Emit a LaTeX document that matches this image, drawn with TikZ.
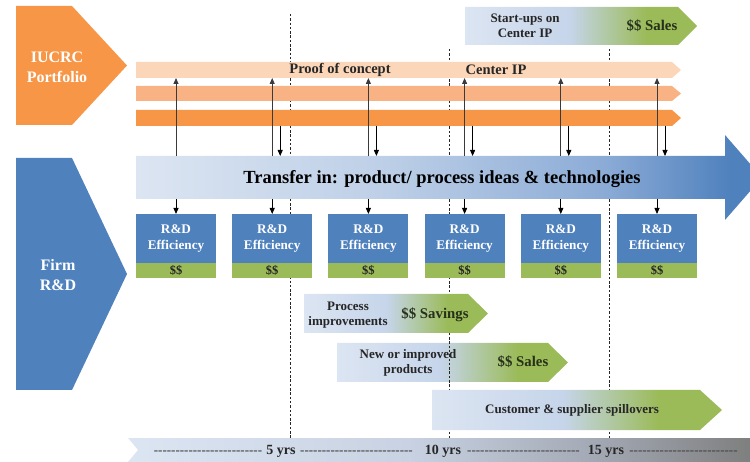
\documentclass[tikz,border=0pt]{standalone}
\usepackage{fontspec}
\setmainfont{Liberation Serif}
\usetikzlibrary{calc,fit,arrows.meta}
\definecolor{ora}{HTML}{F79646}
\definecolor{ora2}{HTML}{F9B284}
\definecolor{ora1}{HTML}{FBD6B8}
\definecolor{blu}{HTML}{4F81BD}
\definecolor{grn}{HTML}{9BBB59}
\definecolor{lb}{HTML}{DCE5F2}
\definecolor{lb2}{HTML}{C6D5EA}
\definecolor{tb1}{HTML}{BDCFE7}
\definecolor{tb2}{HTML}{8BABD6}
\definecolor{gb1}{HTML}{C8D2E2}
\definecolor{gb2}{HTML}{A3A9B4}
\definecolor{gry}{HTML}{7F7F7F}
\definecolor{txt}{HTML}{262626}
\definecolor{mtxt}{HTML}{26301A}
\definecolor{arrgray}{HTML}{3A3A3A}
\pgfdeclarehorizontalshading{bluegreen}{100bp}{color(0bp)=(lb); color(25bp)=(lb); color(47.5bp)=(lb2); color(64bp)=(grn); color(100bp)=(grn)}
\pgfdeclarehorizontalshading{transfershade}{100bp}{color(0bp)=(lb); color(25bp)=(lb); color(45bp)=(tb1); color(62.5bp)=(tb2); color(72.5bp)=(blu); color(100bp)=(blu)}
\pgfdeclarehorizontalshading{timeshade}{100bp}{color(0bp)=(lb); color(25bp)=(lb); color(47.5bp)=(gb1); color(62.5bp)=(gb2); color(75bp)=(gry); color(100bp)=(gry)}
\newcommand\dashrun[1]{\foreach \k in {1,...,#1}{-\kern0pt}}
\tikzset{
  every node/.style={inner sep=0pt, outer sep=0pt},
  bigtxt/.style={font=\bfseries\fontsize{16}{20}\selectfont, text=white, align=center},
  bartxt/.style={font=\bfseries\fontsize{14.5}{16}\selectfont, text=txt},
  smalltxt/.style={font=\bfseries\fontsize{13}{15.5}\selectfont, text=txt, align=center},
  moneytxt/.style={font=\bfseries\fontsize{14.8}{16}\selectfont, text=mtxt},
  bigbar/.style={font=\bfseries\fontsize{18.5}{20}\selectfont, text=black},
  effbox/.style={fill=blu, minimum width=80pt, minimum height=49pt, text=white, align=center, font=\bfseries\fontsize{13.2}{16}\selectfont},
  cashbox/.style={fill=grn, minimum width=80pt, minimum height=15pt, text=txt, font=\bfseries\fontsize{12.5}{14}\selectfont},
  uparr/.style={draw=arrgray, line width=0.8pt, -{Triangle[length=6pt,width=5pt]}},
  downarr/.style={draw=black, line width=0.8pt, -{Triangle[length=6pt,width=5pt]}},
  vdash/.style={draw=black!85, line width=0.7pt, dash pattern=on 2.5pt off 1.8pt},
  yrstxt/.style={font=\bfseries\fontsize{14}{16}\selectfont, text=txt},
  dashtxt/.style={font=\bfseries\fontsize{13}{16}\selectfont, text=txt!85}
}
\begin{document}
\begin{tikzpicture}[x=1pt,y=-1pt]
\useasboundingbox (0,0) rectangle (750,462);

% new or improved products (under the dashed lines)
\path[shading=bluegreen] (337,343) -- (548,343) -- (568,362.5) -- (548,382) -- (337,382) -- cycle;
\coordinate (np1) at (337,343); \coordinate (np2) at (548,382);
\node[inner sep=0pt, fit=(np1)(np2)] (newprod) {};

% dashed time lines
\coordinate (d5top) at (290,14);  \coordinate (d5bot) at (290,438);
\coordinate (d10top) at (449,49); \coordinate (d10bot) at (449,438);
\coordinate (d15top) at (609,49); \coordinate (d15bot) at (609,438);
\draw[vdash] (d5top) -- (d5bot);
\draw[vdash] (d10top) -- (d10bot);
\draw[vdash] (d15top) -- (d15bot);

% left pentagons
\fill[ora] (16,6) -- (72,6) -- (127,65.5) -- (72,125) -- (16,125) -- cycle;
\node[bigtxt] (iucrc) at (57,67) {IUCRC\\Portfolio};
\fill[blu] (16,158) -- (72,158) -- (127,274) -- (72,390) -- (16,390) -- cycle;
\node[bigtxt] (firm) at (58,275) {Firm\\R\&D};

% orange bars
\fill[ora1] (136,62) -- (672,62) -- (681,70) -- (672,78) -- (136,78) -- cycle;
\coordinate (b1a) at (136,62); \coordinate (b1b) at (672,78);
\node[inner sep=0pt, fit=(b1a)(b1b)] (bar1) {};
\fill[ora2] (136,86) -- (672,86) -- (681,93.5) -- (672,101) -- (136,101) -- cycle;
\fill[ora] (136,110) -- (672,110) -- (681,118) -- (672,126) -- (136,126) -- cycle;
\coordinate (b3a) at (136,110); \coordinate (b3b) at (672,126);
\node[inner sep=0pt, fit=(b3a)(b3b)] (bar3) {};
\node[bartxt] (proof) at (340,70) {Proof of concept};
\node[bartxt] (centerip) at (496,70) {Center IP};

% start-ups
\path[shading=bluegreen] (465,7) -- (678,7) -- (697,26) -- (678,45) -- (465,45) -- cycle;
\node[smalltxt] (startups) at (525,26) {Start-ups on\\Center IP};
\node[moneytxt] (startsales) at (652,26) {\$\$ Sales};

% transfer arrow
\path[shading=transfershade] (136,156) -- (725,156) -- (725,135) -- (762,177.5) -- (725,220) -- (725,199) -- (136,199) -- cycle;
\coordinate (tr1) at (136,156); \coordinate (tr2) at (725,199);
\node[inner sep=0pt, fit=(tr1)(tr2)] (transfer) {};
\node[bigbar] (transfertxt) at (442,179) {Transfer in: product/ process ideas \& technologies};

% R&D efficiency boxes
\foreach \i/\x in {1/176,2/272.2,3/368.4,4/464.6,5/560.8,6/657} {
  \node[effbox] (box\i) at (\x,238.5) {R\&D\\Efficiency};
  \node[cashbox] (cash\i) at (\x,270.5) {\$\$};
}

% arrows
\foreach \i in {1,...,6} {
  \draw[uparr] (transfer.north -| box\i.north) -- (bar1.south -| box\i.north);
  \draw[downarr] (transfer.south -| box\i.north) -- (box\i.north);
}
\foreach \i in {2,...,6} {
  \draw[downarr] ($(bar3.south -| box\i.north)+(8,0)$) -- ($(transfer.north -| box\i.north)+(8,0)$);
}

% process improvements
\path[shading=bluegreen] (304,294) -- (468,294) -- (488,313.5) -- (468,333) -- (304,333) -- cycle;
\node[smalltxt] (proc) at (348,315) {Process\\improvements};
\node[moneytxt] (savings) at (435,315) {\$\$ Savings};

% new products texts
\node[smalltxt] (newtxt) at (408,363) {New or improved\\products};
\node[moneytxt] (newsales) at (523,362) {\$\$ Sales};

% customer spillovers
\path[shading=bluegreen] (432,390) -- (700,390) -- (722,410) -- (700,430) -- (432,430) -- cycle;
\node[smalltxt] (cust) at (572,410) {Customer \& supplier spillovers};

% time bar
\path[shading=timeshade] (128,438) -- (750,438) -- (750,462) -- (128,462) -- (138,450) -- cycle;
\node[dashtxt] (ds1) at (208,452.5) {\dashrun{25}};
\node[yrstxt] (y5) at (281,451) {5 yrs};
\node[dashtxt] (ds2) at (356.5,452.5) {\dashrun{26}};
\node[yrstxt] (y10) at (443,451) {10 yrs};
\node[dashtxt] (ds3) at (523.5,452.5) {\dashrun{26}};
\node[yrstxt] (y15) at (606,451) {15 yrs};
\node[dashtxt] (ds4) at (683.5,452.5) {\dashrun{25}};
\end{tikzpicture}
\end{document}
